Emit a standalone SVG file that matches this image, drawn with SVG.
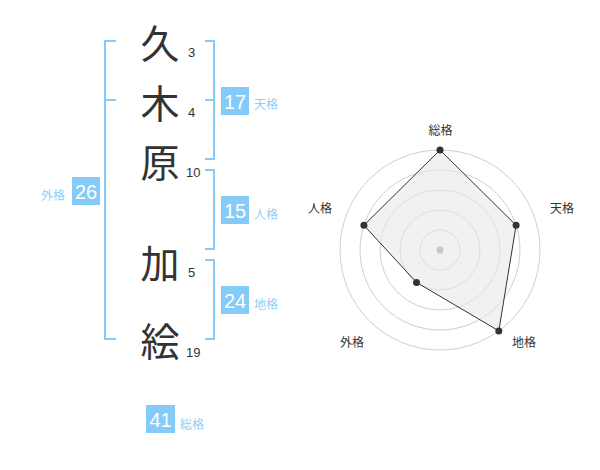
<svg xmlns="http://www.w3.org/2000/svg" width="600" height="470" viewBox="0 0 600 470">
<style>
.k{font-family:"Noto Sans CJK JP","Noto Sans CJK SC",sans-serif;font-size:39px;fill:#333;text-anchor:middle}
.n{font-family:"Liberation Sans",Arial,sans-serif;font-size:13px;fill:#333}
.br{fill:none;stroke:#85cbf7;stroke-width:2}
.box{fill:#85cbf7}
.bn{font-family:"Liberation Sans",Arial,sans-serif;font-size:20px;fill:#fff;text-anchor:middle}
.lb{font-family:"Noto Sans CJK JP","Noto Sans CJK SC",sans-serif;font-size:12px;fill:#8fd0f5}
.ring{fill:none;stroke:#cfcfcf;stroke-width:1}
.rl{font-family:"Noto Sans CJK JP","Noto Sans CJK SC",sans-serif;font-size:12px;fill:#333;text-anchor:middle}
.pt{fill:#333}
</style>
<rect width="600" height="470" fill="#fff"/>
<g id="names">
<g id="c1"><text class="k" x="160" y="58">久</text><text class="n" x="188" y="57">3</text></g>
<g id="c2"><text class="k" x="160" y="118">木</text><text class="n" x="188" y="117">4</text></g>
<g id="c3"><text class="k" x="160" y="177">原</text><text class="n" x="186" y="177">10</text></g>
<g id="c4"><text class="k" x="160" y="278">加</text><text class="n" x="188" y="277">5</text></g>
<g id="c5"><text class="k" x="160" y="356">絵</text><text class="n" x="186" y="357">19</text></g>
</g>
<g id="connectors">
<path class="br" d="M116,41 H105 V339 H116 M105,100 H116"/>
<path class="br" d="M205,41 H214 V159 H205 M214,100 H205"/>
<path class="br" d="M205,170 H214 V249 H205"/>
<path class="br" d="M205,260 H214 V339 H205"/>
</g>
<g id="tenkaku"><rect class="box" x="221" y="87" width="28" height="28"/><text class="bn" x="235" y="108.5">17</text><text class="lb" x="254" y="109">天格</text></g>
<g id="jinkaku"><rect class="box" x="221" y="196" width="28" height="28"/><text class="bn" x="235" y="217.5">15</text><text class="lb" x="254" y="219">人格</text></g>
<g id="chikaku"><rect class="box" x="221" y="286" width="28" height="28"/><text class="bn" x="235" y="307.5">24</text><text class="lb" x="254" y="309">地格</text></g>
<g id="gaikaku"><rect class="box" x="72" y="177" width="28" height="28"/><text class="bn" x="86" y="198.5">26</text><text class="lb" x="41" y="200">外格</text></g>
<g id="soukaku"><rect class="box" x="146" y="405" width="29" height="28"/><text class="bn" x="160.5" y="426.5">41</text><text class="lb" x="180" y="429">総格</text></g>
<g id="radar">
<circle class="ring" cx="440" cy="250" r="100"/>
<circle class="ring" cx="440" cy="250" r="80"/>
<circle class="ring" cx="440" cy="250" r="60"/>
<circle class="ring" cx="440" cy="250" r="40"/>
<circle class="ring" cx="440" cy="250" r="20"/>
<polygon points="440,150 516.1,225.3 498.8,330.9 416.5,282.4 363.9,225.3" fill="#e8e8e8" fill-opacity="0.6" stroke="#333" stroke-width="1"/>
<circle cx="440" cy="250" r="3.5" fill="#c8c8c8"/>
<circle class="pt" cx="440" cy="150" r="3.5"/>
<circle class="pt" cx="516.1" cy="225.3" r="3.5"/>
<circle class="pt" cx="498.8" cy="330.9" r="3.5"/>
<circle class="pt" cx="416.5" cy="282.4" r="3.5"/>
<circle class="pt" cx="363.9" cy="225.3" r="3.5"/>
<text class="rl" x="440.5" y="135">総格</text>
<text class="rl" x="562" y="213">天格</text>
<text class="rl" x="524" y="347">地格</text>
<text class="rl" x="352" y="347">外格</text>
<text class="rl" x="320" y="213">人格</text>
</g>
</svg>
